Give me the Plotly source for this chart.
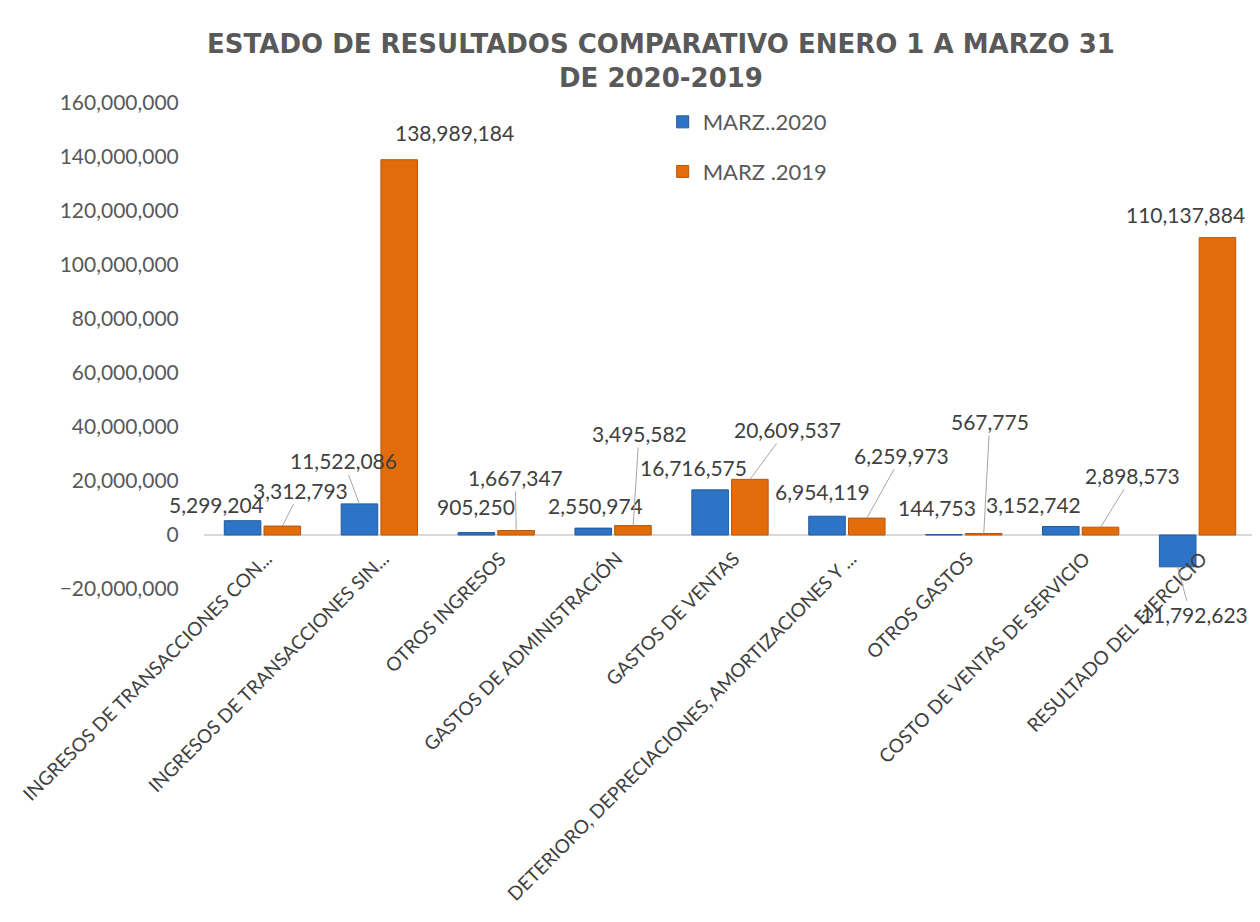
import plotly.graph_objects as go

categories = [
    "INGRESOS DE TRANSACCIONES CON...",
    "INGRESOS DE TRANSACCIONES SIN...",
    "OTROS INGRESOS",
    "GASTOS DE ADMINISTRACIÓN",
    "GASTOS DE VENTAS",
    "DETERIORO, DEPRECIACIONES, AMORTIZACIONES Y ...",
    "OTROS GASTOS",
    "COSTO DE VENTAS DE SERVICIO",
    "RESULTADO DEL EJERCICIO",
]
series_names = ["MARZ..2020", "MARZ .2019"]
values_2020 = [5299204, 11522086, 905250, 2550974, 16716575, 6954119, 144753, 3152742, -11792623]
values_2019 = [3312793, 138989184, 1667347, 3495582, 20609537, 6259973, 567775, 2898573, 110137884]
y_ticks = [-20000000, 0, 20000000, 40000000, 60000000, 80000000, 100000000, 120000000, 140000000, 160000000]

# label placement (pixel offsets of label centre from bar end) and leader-line flags
off_2020 = [(-26, -16), (-16, -43), (0, -26), (2, -23), (-17, -22), (-4, -25), (-7, -27), (-27, -22), (13, 48)]
lead_2020 = [False, True, False, False, False, False, False, False, True]
off_2019 = [(18, -36), (55, -27), (-1, -53), (6, -92), (37, -50), (35, -63), (6, -112), (32, -52), (-32, -23)]
lead_2019 = [True, False, True, True, True, True, True, True, False]

BLUE = "#2E74C6"
ORANGE = "#E36C0A"
TXT = "#404040"
FONT = "Lato"

fig = go.Figure()
fig.add_trace(go.Bar(x=categories, y=values_2020, name=series_names[0], legendgroup="a",
                     marker=dict(color=BLUE, line=dict(color="#24599a", width=1))))
fig.add_trace(go.Bar(x=categories, y=values_2019, name=series_names[1], legendgroup="b",
                     marker=dict(color=ORANGE, line=dict(color="#b8560c", width=1))))

annotations = []
for vals, offs, leads, xs in ((values_2020, off_2020, lead_2020, -20), (values_2019, off_2019, lead_2019, 20)):
    for cat, v, (ax, ay), ld in zip(categories, vals, offs, leads):
        annotations.append(dict(
            x=cat, y=v, xref="x", yref="y", xshift=xs,
            text=f"{v:,}", showarrow=True, ax=ax, ay=ay,
            arrowhead=0, arrowwidth=1,
            arrowcolor="#a6a6a6" if ld else "rgba(0,0,0,0)",
            font=dict(family=FONT, size=21, color=TXT),
        ))

W, H = 1252, 914  # page body adds an 8px margin
fig.update_layout(
    width=W, height=H,
    paper_bgcolor="white", plot_bgcolor="white",
    margin=dict(l=196, r=4, t=95, b=333),
    title=dict(text="ESTADO DE RESULTADOS COMPARATIVO ENERO 1 A MARZO 31<br>DE 2020-2019",
               x=653 / W, xanchor="center", y=1 - 45 / H, yanchor="middle",
               font=dict(family="DejaVu Sans", size=26, color="#595959", weight="bold")),
    barmode="group", bargap=0.32, bargroupgap=0.08,
    showlegend=True,
    legend=dict(x=0.436, y=1.004, xanchor="left", yanchor="top", tracegroupgap=18,
                font=dict(family=FONT, size=22, color="#595959"), bgcolor="rgba(0,0,0,0)",
                itemwidth=30),
    annotations=annotations,
    xaxis=dict(anchor="free", position=(54 - 8) / 486, tickangle=-45, showgrid=False, automargin=False,
               range=[-0.5, len(categories) - 0.5], ticklabelshift=4,
               showline=False, ticks="", tickfont=dict(family=FONT, size=19, color=TXT)),
    yaxis=dict(range=[-20000000, 160000000], tickvals=y_ticks, tickformat=",", automargin=False,
               showgrid=False, zeroline=True, zerolinecolor="#d9d9d9", zerolinewidth=1.5,
               ticks="outside", ticklen=20, tickcolor="rgba(0,0,0,0)",
               tickfont=dict(family=FONT, size=21, color="#595959")),
)

fig.write_html("out.html")
